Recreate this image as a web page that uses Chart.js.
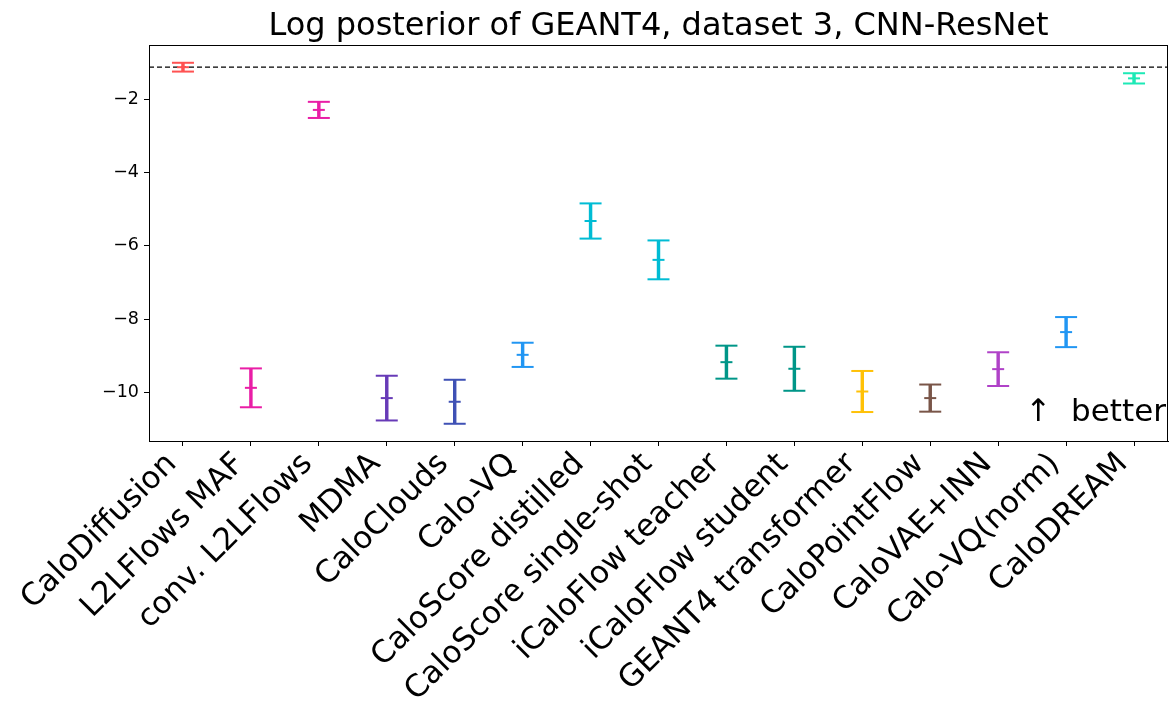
<!DOCTYPE html>
<html>
<head>
<meta charset="utf-8">
<script src="https://cdn.jsdelivr.net/npm/chart.js@4"></script>
<style>
  body { margin: 0; background: #fff; }
  #wrap { width: 1171px; height: 719px; }
</style>
</head>
<body>
<div id="wrap"><canvas id="myChart" width="1171" height="719"></canvas></div>
<script>
'use strict';

//////////////// the data ///////////////////

let models = [
  'CaloDiffusion',
  'L2LFlows MAF',
  'conv. L2LFlows',
  'MDMA',
  'CaloClouds',
  'Calo-VQ',
  'CaloScore distilled',
  'CaloScore single-shot',
  'iCaloFlow teacher',
  'iCaloFlow student',
  'GEANT4 transformer',
  'CaloPointFlow',
  'CaloVAE+INN',
  'Calo-VQ(norm)',
  'CaloDREAM'
];

// mean log posterior and the half length of the error bar
let means = [-1.125, -9.87, -2.29, -10.15, -10.25, -8.97, -5.32, -6.38, -9.17, -9.35, -9.97, -10.15, -9.36, -8.35, -1.43];
let errors = [0.12, 0.53, 0.22, 0.61, 0.60, 0.33, 0.48, 0.53, 0.45, 0.60, 0.56, 0.37, 0.46, 0.41, 0.14];

let colors = [
  '#ff5252', '#e91ea6', '#e91ea6', '#673ab7', '#3f51b5',
  '#2196f3', '#00bcd4', '#00bcd4', '#009688', '#009688',
  '#ffc107', '#795548', '#b042c8', '#2196f3', '#1de9b6'
];

let yTicks = [-10, -8, -6, -4, -2];
let refValue = -1.125; // dashed line = CaloDiffusion
let yMin = -11.32;
let yMax = -0.52;

let titleText = 'Log posterior of GEANT4, dataset 3, CNN-ResNet';
let noteText = '\u2191  better';

//////////////// build datasets //////////////////////////////

let ranges = [];
let upper = [];
let lower = [];
for (let i = 0; i < means.length; i++) {
  ranges.push([means[i] - errors[i], means[i] + errors[i]]);
  upper.push(means[i] + errors[i]);
  lower.push(means[i] - errors[i]);
}

function pointSet(data, radius) {
  return {
    type: 'line',
    data: data,
    showLine: false,
    pointStyle: 'line',
    pointRadius: radius,
    pointHoverRadius: radius,
    pointBorderWidth: 2,
    pointBorderColor: colors,
    pointBackgroundColor: colors,
    order: 0
  };
}

//////////////// plugin for frame, dashed line, title, note ////////////////

const extras = {
  id: 'extras',
  beforeDatasetsDraw(chart) {
    let ctx = chart.ctx;
    let area = chart.chartArea;
    let y = chart.scales.y.getPixelForValue(refValue);
    ctx.save();
    ctx.strokeStyle = '#000';
    ctx.lineWidth = 1.2;
    ctx.setLineDash([5, 3]);
    ctx.beginPath();
    ctx.moveTo(area.left, y);
    ctx.lineTo(area.right, y);
    ctx.stroke();
    ctx.restore();
  },
  afterDraw(chart) {
    let ctx = chart.ctx;
    let area = chart.chartArea;
    ctx.save();
    ctx.strokeStyle = '#000';
    ctx.lineWidth = 1;
    ctx.strokeRect(area.left + 0.5, area.top + 0.5, area.right - area.left - 1, area.bottom - area.top);

    ctx.fillStyle = '#000';
    ctx.font = '32px "DejaVu Sans"';
    ctx.textAlign = 'center';
    ctx.textBaseline = 'alphabetic';
    ctx.fillText(titleText, (area.left + area.right) / 2, 35);

    ctx.font = '31px "DejaVu Sans"';
    ctx.textAlign = 'right';
    ctx.fillText(noteText, area.right - 2, area.bottom - 20);
    ctx.restore();
  }
};

//////////////// the chart //////////////////////////////

Chart.defaults.font.family = '"DejaVu Sans"';
Chart.defaults.color = '#000';

let ctx = document.getElementById('myChart').getContext('2d');
let myChart = new Chart(ctx, {
  type: 'bar',
  data: {
    labels: models,
    datasets: [{
      data: ranges,
      backgroundColor: colors,
      borderWidth: 0,
      barThickness: 2.8,
      order: 1
    },
    pointSet(upper, 11),
    pointSet(lower, 11),
    pointSet(means, 6)
    ]
  },
  options: {
    responsive: false,
    animation: false,
    layout: { autoPadding: false, padding: { top: 45, right: 3, left: 0, bottom: 0 } },
    plugins: {
      legend: { display: false },
      tooltip: { enabled: false },
      title: { display: false }
    },
    scales: {
      x: {
        grid: { offset: false, drawOnChartArea: false, drawTicks: true, tickLength: 5, color: '#000' },
        border: { display: true, color: '#000' },
        ticks: {
          autoSkip: false,
          minRotation: 45,
          maxRotation: 45,
          padding: 0,
          labelOffset: -11,
          font: { size: 31 },
          color: '#000'
        },
        afterFit(scale) {
          scale.height = 278;
          scale.paddingLeft = 0;
          scale.paddingRight = 0;
        }
      },
      y: {
        min: yMin,
        max: yMax,
        grid: { drawOnChartArea: false, drawTicks: true, tickLength: 5, color: '#000' },
        border: { display: true, color: '#000' },
        afterBuildTicks(scale) {
          scale.ticks = yTicks.map(v => ({ value: v }));
        },
        ticks: {
          padding: 5,
          font: { size: 17.5 },
          color: '#000',
          callback: function (value) {
            return String(value).replace('-', '\u2212');
          }
        },
        afterFit(scale) { scale.width = 149; }
      }
    }
  },
  plugins: [extras]
});
</script>
</body>
</html>
